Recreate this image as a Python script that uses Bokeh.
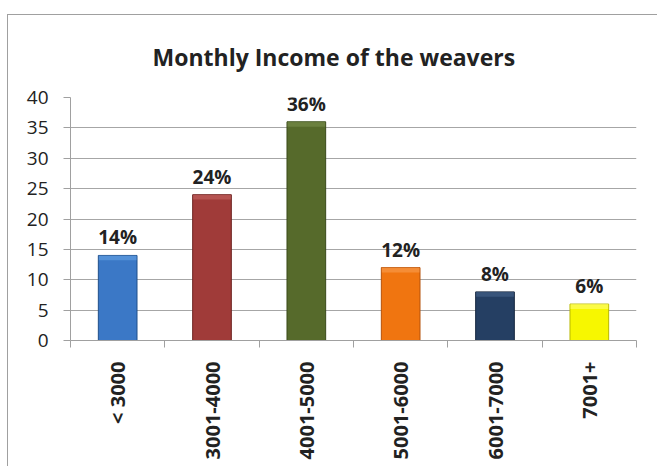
import numpy as np
from bokeh.plotting import figure
from bokeh.models import ColumnDataSource, FixedTicker, Range1d
from bokeh.core.properties import value
from bokeh.embed import file_html
from bokeh.resources import INLINE

categories = ["< 3000", "3001-4000", "4001-5000", "5001-6000", "6001-7000", "7001+"]
counts = [14, 24, 36, 12, 8, 6]
bar_labels = ["14%", "24%", "36%", "12%", "8%", "6%"]
colors = ["#3b78c6", "#a03b39", "#566a2b", "#f07510", "#253f63", "#f7f700"]
cap_colors = ["#6aa6e8", "#c86a68", "#7d9150", "#f9a055", "#4a6790", "#ffff80"]
edge_colors = ["#1f4f8a", "#6e2422", "#3a4a1a", "#b5520a", "#16273f", "#b8b800"]
y_ticks = [0, 5, 10, 15, 20, 25, 30, 35, 40]

FONT = "Open Sans"

xs = np.arange(len(categories)) + 0.5
tops = np.array(counts, dtype=float)
src = ColumnDataSource(dict(x=xs, top=tops, cap_bottom=tops - 0.8, lab=bar_labels,
                            color=colors, cap=cap_colors, edge=edge_colors))

p = figure(width=650, height=452, output_backend="svg", toolbar_location=None,
           x_range=Range1d(0, len(categories)), y_range=Range1d(0, 40),
           min_border_left=62, min_border_right=22, min_border_top=82, min_border_bottom=127,
           title="Monthly Income of the weavers")
p.margin = (14, 0, 0, 7)
p.styles = {"border-top": "1px solid #a0a0a0", "border-left": "1px solid #a0a0a0"}
p.outline_line_color = None
p.background_fill_color = "white"
p.border_fill_color = "white"

p.title.align = "left"
p.title.offset = 82
p.title.standoff = 45
p.title.vertical_align = "top"
p.title.text_font = FONT
p.title.text_font_style = "bold"
p.title.text_font_size = "23px"
p.title.text_color = "#222222"

p.vbar(x="x", top="top", bottom=0, width=0.41, source=src,
       fill_color="color", line_color="edge", line_width=1)
p.vbar(x="x", top="top", bottom="cap_bottom", width=0.41 - 0.01, source=src,
       fill_color="cap", fill_alpha=0.55, line_color=None)

p.text(x="x", y="top", text="lab", source=src, text_align="center", text_baseline="bottom",
       y_offset=-5, text_font=value(FONT), text_font_style="bold", text_font_size="19px",
       text_color="#222222")

# y axis
p.yaxis.ticker = FixedTicker(ticks=y_ticks)
p.yaxis.axis_line_color = "#a0a0a0"
p.yaxis.major_tick_line_color = "#a0a0a0"
p.yaxis.major_tick_out = 7
p.yaxis.major_tick_in = 0
p.yaxis.minor_tick_line_color = None
p.yaxis.major_label_standoff = 15
p.yaxis.major_label_text_font = FONT
p.yaxis.major_label_text_font_size = "19px"
p.yaxis.major_label_text_color = "#222222"

# x axis
p.xaxis.ticker = FixedTicker(ticks=list(xs), minor_ticks=list(range(len(categories) + 1)))
p.xaxis.major_label_overrides = {float(x): c for x, c in zip(xs, categories)}
p.xaxis.major_label_orientation = np.pi / 2
p.xaxis.axis_line_color = "#a0a0a0"
p.xaxis.major_tick_line_color = None
p.xaxis.minor_tick_line_color = "#a0a0a0"
p.xaxis.minor_tick_out = 7
p.xaxis.minor_tick_in = 0
p.xaxis.major_tick_out = 0
p.xaxis.major_tick_in = 0
p.xaxis.major_label_standoff = 14
p.xaxis.major_label_text_font = FONT
p.xaxis.major_label_text_font_style = "bold"
p.xaxis.major_label_text_font_size = "20px"
p.xaxis.major_label_text_color = "#222222"

p.xgrid.grid_line_color = None
p.ygrid.grid_line_color = "#a6a6a6"
p.ygrid.ticker = FixedTicker(ticks=y_ticks)

open("out.html", "w").write(file_html(p, INLINE))
